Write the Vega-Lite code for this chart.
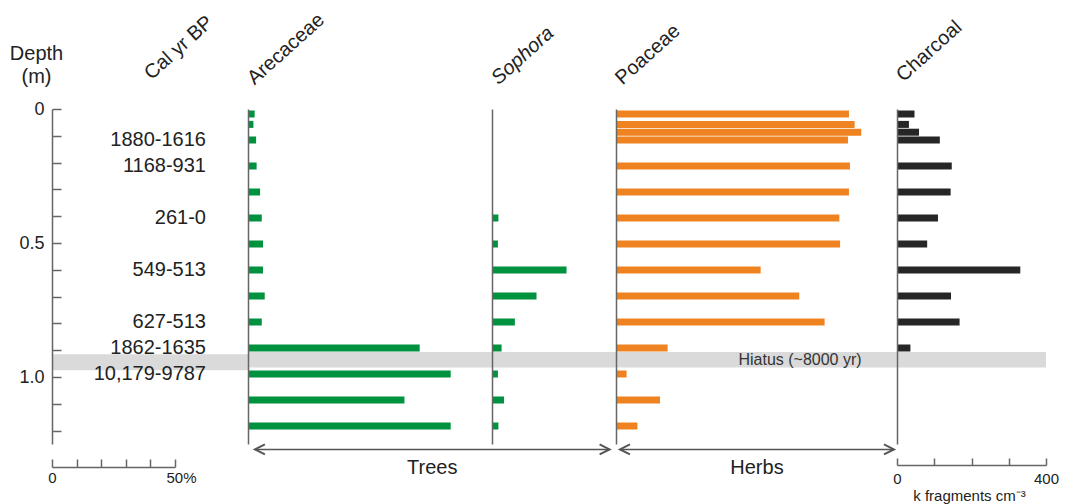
{
  "$schema": "https://vega.github.io/schema/vega-lite/v6.json",
  "background": "white",
  "padding": {"left": 9, "top": 9, "right": 5, "bottom": 5},
  "spacing": 0,
  "bounds": "flush",
  "config": {
    "view": {"stroke": null},
    "font": "Liberation Sans",
    "axis": {"grid": false}
  },
  "datasets": {
    "samples": [
      {"depth": 0.0, "age": null, "arecaceae": 2.7, "sophora": null, "poaceae": 94.7, "charcoal": 47},
      {"depth": 0.04, "age": null, "arecaceae": 2.2, "sophora": null, "poaceae": 97.0, "charcoal": 32},
      {"depth": 0.07, "age": null, "arecaceae": null, "sophora": null, "poaceae": 99.7, "charcoal": 59},
      {"depth": 0.1, "age": "1880-1616", "arecaceae": 3.3, "sophora": null, "poaceae": 94.3, "charcoal": 115},
      {"depth": 0.2, "age": "1168-931", "arecaceae": 3.5, "sophora": null, "poaceae": 95.1, "charcoal": 147},
      {"depth": 0.3, "age": null, "arecaceae": 4.9, "sophora": null, "poaceae": 94.7, "charcoal": 144},
      {"depth": 0.4, "age": "261-0", "arecaceae": 5.6, "sophora": 2.6, "poaceae": 90.8, "charcoal": 110},
      {"depth": 0.5, "age": null, "arecaceae": 6.1, "sophora": 2.4, "poaceae": 91.1, "charcoal": 81},
      {"depth": 0.6, "age": "549-513", "arecaceae": 6.1, "sophora": 30.3, "poaceae": 58.8, "charcoal": 331},
      {"depth": 0.7, "age": null, "arecaceae": 6.8, "sophora": 18.1, "poaceae": 74.5, "charcoal": 145},
      {"depth": 0.8, "age": "627-513", "arecaceae": 5.6, "sophora": 9.3, "poaceae": 84.8, "charcoal": 168},
      {"depth": 0.9, "age": "1862-1635", "arecaceae": 69.8, "sophora": 3.9, "poaceae": 21.0, "charcoal": 36},
      {"depth": 1.0, "age": "10,179-9787", "arecaceae": 82.4, "sophora": 2.4, "poaceae": 4.3, "charcoal": null},
      {"depth": 1.1, "age": null, "arecaceae": 63.6, "sophora": 4.9, "poaceae": 17.9, "charcoal": null},
      {"depth": 1.2, "age": null, "arecaceae": 82.4, "sophora": 2.6, "poaceae": 8.7, "charcoal": null}
    ],
    "hiatus": [
      {"top": 0.915, "bottom": 0.975, "label": "Hiatus (~8000 yr)"}
    ]
  },
  "hconcat": [
    {
      "width": 123,
      "height": 335,
      "data": {"name": "hiatus"},
      "mark": {"type": "rect", "color": "#d9dad9"},
      "encoding": {
        "y": {
          "field": "top", "type": "quantitative",
          "scale": {"domain": [0, 1.25], "reverse": true, "nice": false, "zero": false},
          "axis": {
            "values": [0, 0.1, 0.2, 0.3, 0.4, 0.5, 0.6, 0.7, 0.8, 0.9, 1.0, 1.1, 1.2],
            "labelExpr": "datum.value == 0 ? '0' : (abs(datum.value - 0.5) < 0.001 || abs(datum.value - 1) < 0.001) ? format(datum.value, '.1f') : ''",
            "tickSize": -9, "tickColor": "#666666", "tickWidth": 1.5,
            "domainColor": "#666666", "domainWidth": 1.5,
            "labelPadding": 17, "labelFontSize": 18, "labelColor": "#222222", "labelOverlap": false,
            "title": ["Depth", "(m)"], "titleAngle": 0, "titleAlign": "center", "titleBaseline": "alphabetic",
            "titleX": -16, "titleY": -50, "titleFontSize": 20, "titleFontWeight": "normal", "titleColor": "#222222", "titleLineHeight": 23,
            "zindex": 1
          }
        },
        "y2": {"field": "bottom"},
        "x": {
          "datum": 0, "type": "quantitative",
          "scale": {"domain": [0, 50], "nice": false},
          "axis": {
            "orient": "bottom", "offset": 23, "values": [0, 10, 20, 30, 40, 50],
            "labelExpr": "datum.value == 0 ? '0' : datum.value == 50 ? '50%' : ''",
            "labelOffset": {"condition": {"test": "datum.value == 50", "value": 6}, "value": 0},
            "tickSize": -8, "tickColor": "#666666", "tickWidth": 1.5,
            "domainColor": "#666666", "domainWidth": 1.5,
            "labelPadding": 11, "labelFontSize": 15, "labelColor": "#222222", "labelFlush": false, "labelOverlap": false,
            "title": null, "zindex": 1
          }
        },
        "x2": {"datum": 50}
      }
    },
    {
      "width": 73,
      "height": 335,
      "data": {"name": "hiatus"},
      "mark": {"type": "rect", "color": "#d9dad9"},
      "encoding": {
        "y": {"field": "top", "type": "quantitative", "scale": {"domain": [0, 1.25], "reverse": true, "nice": false, "zero": false},
              "axis": {"domain": false, "labels": false, "ticks": false, "title": "Cal yr BP", "titleAngle": -42, "titleAlign": "left", "titleBaseline": "alphabetic", "titleX": -24, "titleY": -29, "titleFontSize": 20, "titleFontWeight": "normal", "titleColor": "#222222"}},
        "y2": {"field": "bottom"}
      }
    },
    {
      "width": 244,
      "height": 335,
      "layer": [
        {
          "data": {"name": "hiatus"},
          "mark": {"type": "rect", "color": "#d9dad9"},
          "encoding": {
            "y": {"field": "top", "type": "quantitative", "scale": {"domain": [0, 1.25], "reverse": true, "nice": false, "zero": false},
                  "axis": {"labels": false, "ticks": false, "domainColor": "#666666", "domainWidth": 1.5, "zindex": 1, "title": "Arecaceae", "titleAngle": -42, "titleAlign": "left", "titleBaseline": "alphabetic", "titleX": 6, "titleY": -24, "titleFontSize": 20, "titleFontWeight": "normal", "titleColor": "#222222"}},
            "y2": {"field": "bottom"}
          }
        },
        {
          "data": {"name": "samples"},
          "mark": {"type": "bar", "orient": "horizontal", "size": 7, "color": "#00923f"},
          "encoding": {
            "y": {"field": "depth", "type": "quantitative",
                  "axis": {"labels": false, "ticks": false, "domainColor": "#666666", "domainWidth": 1.5, "zindex": 1, "title": "Arecaceae", "titleAngle": -42, "titleAlign": "left", "titleBaseline": "alphabetic", "titleX": 6, "titleY": -24, "titleFontSize": 20, "titleFontWeight": "normal", "titleColor": "#222222"}},
            "x": {"field": "arecaceae", "type": "quantitative", "scale": {"domain": [0, 99.19], "nice": false}, "axis": null}
          }
        },
        {
          "data": {"name": "samples"},
          "transform": [{"filter": "datum.age != null"}],
          "mark": {"type": "text", "align": "right", "baseline": "middle", "dx": -42, "fontSize": 20, "color": "#222222"},
          "encoding": {
            "y": {"field": "depth", "type": "quantitative",
                  "axis": {"labels": false, "ticks": false, "domainColor": "#666666", "domainWidth": 1.5, "zindex": 1, "title": "Arecaceae", "titleAngle": -42, "titleAlign": "left", "titleBaseline": "alphabetic", "titleX": 6, "titleY": -24, "titleFontSize": 20, "titleFontWeight": "normal", "titleColor": "#222222"}},
            "x": {"datum": 0, "type": "quantitative", "axis": null},
            "text": {"field": "age"}
          }
        },
        {
          "data": {"values": [{}]},
          "mark": {"type": "rule", "color": "#555555", "strokeWidth": 1.5},
          "encoding": {
            "x": {"datum": 2.8, "type": "quantitative", "axis": null},
            "x2": {"datum": 147},
            "y": {"datum": 1.29, "type": "quantitative",
                  "axis": {"labels": false, "ticks": false, "domainColor": "#666666", "domainWidth": 1.5, "zindex": 1, "title": "Arecaceae", "titleAngle": -42, "titleAlign": "left", "titleBaseline": "alphabetic", "titleX": 6, "titleY": -24, "titleFontSize": 20, "titleFontWeight": "normal", "titleColor": "#222222"}}
          }
        },
        {
          "data": {"values": [{}]},
          "mark": {"type": "point", "shape": "M2,-1L0,0L2,1", "size": 100, "filled": false, "color": "#555555", "strokeWidth": 2, "opacity": 1},
          "encoding": {
            "x": {"datum": 2.8, "type": "quantitative", "axis": null},
            "y": {"datum": 1.29, "type": "quantitative",
                  "axis": {"labels": false, "ticks": false, "domainColor": "#666666", "domainWidth": 1.5, "zindex": 1, "title": "Arecaceae", "titleAngle": -42, "titleAlign": "left", "titleBaseline": "alphabetic", "titleX": 6, "titleY": -24, "titleFontSize": 20, "titleFontWeight": "normal", "titleColor": "#222222"}}
          }
        },
        {
          "data": {"values": [{}]},
          "mark": {"type": "point", "shape": "M-2,-1L0,0L-2,1", "size": 100, "filled": false, "color": "#555555", "strokeWidth": 2, "opacity": 1},
          "encoding": {
            "x": {"datum": 147, "type": "quantitative", "axis": null},
            "y": {"datum": 1.29, "type": "quantitative",
                  "axis": {"labels": false, "ticks": false, "domainColor": "#666666", "domainWidth": 1.5, "zindex": 1, "title": "Arecaceae", "titleAngle": -42, "titleAlign": "left", "titleBaseline": "alphabetic", "titleX": 6, "titleY": -24, "titleFontSize": 20, "titleFontWeight": "normal", "titleColor": "#222222"}}
          }
        },
        {
          "data": {"values": [{}]},
          "mark": {"type": "text", "text": "Trees", "fontSize": 20, "align": "center", "baseline": "alphabetic", "color": "#222222"},
          "encoding": {
            "x": {"datum": 74.9, "type": "quantitative", "axis": null},
            "y": {"datum": 1.385, "type": "quantitative",
                  "axis": {"labels": false, "ticks": false, "domainColor": "#666666", "domainWidth": 1.5, "zindex": 1, "title": "Arecaceae", "titleAngle": -42, "titleAlign": "left", "titleBaseline": "alphabetic", "titleX": 6, "titleY": -24, "titleFontSize": 20, "titleFontWeight": "normal", "titleColor": "#222222"}}
          }
        }
      ]
    },
    {
      "width": 124,
      "height": 335,
      "layer": [
        {
          "data": {"name": "hiatus"},
          "mark": {"type": "rect", "color": "#d9dad9"},
          "encoding": {
            "y": {"field": "top", "type": "quantitative", "scale": {"domain": [0, 1.25], "reverse": true, "nice": false, "zero": false},
                  "axis": {"labels": false, "ticks": false, "domainColor": "#666666", "domainWidth": 1.5, "zindex": 1, "title": "Sophora", "titleFontStyle": "italic", "titleAngle": -42, "titleAlign": "left", "titleBaseline": "alphabetic", "titleX": 6, "titleY": -24, "titleFontSize": 20, "titleFontWeight": "normal", "titleColor": "#222222"}},
            "y2": {"field": "bottom"}
          }
        },
        {
          "data": {"name": "samples"},
          "mark": {"type": "bar", "orient": "horizontal", "size": 7, "color": "#00923f"},
          "encoding": {
            "y": {"field": "depth", "type": "quantitative",
                  "axis": {"labels": false, "ticks": false, "domainColor": "#666666", "domainWidth": 1.5, "zindex": 1, "title": "Sophora", "titleFontStyle": "italic", "titleAngle": -42, "titleAlign": "left", "titleBaseline": "alphabetic", "titleX": 6, "titleY": -24, "titleFontSize": 20, "titleFontWeight": "normal", "titleColor": "#222222"}},
            "x": {"field": "sophora", "type": "quantitative", "scale": {"domain": [0, 50.41], "nice": false}, "axis": null}
          }
        }
      ]
    },
    {
      "width": 281,
      "height": 335,
      "layer": [
        {
          "data": {"name": "hiatus"},
          "mark": {"type": "rect", "color": "#d9dad9"},
          "encoding": {
            "y": {"field": "top", "type": "quantitative", "scale": {"domain": [0, 1.25], "reverse": true, "nice": false, "zero": false},
                  "axis": {"labels": false, "ticks": false, "domainColor": "#666666", "domainWidth": 1.5, "zindex": 1, "title": "Poaceae", "titleAngle": -42, "titleAlign": "left", "titleBaseline": "alphabetic", "titleX": 6, "titleY": -24, "titleFontSize": 20, "titleFontWeight": "normal", "titleColor": "#222222"}},
            "y2": {"field": "bottom"}
          }
        },
        {
          "data": {"name": "samples"},
          "mark": {"type": "bar", "orient": "horizontal", "size": 7, "color": "#ef8321"},
          "encoding": {
            "y": {"field": "depth", "type": "quantitative",
                  "axis": {"labels": false, "ticks": false, "domainColor": "#666666", "domainWidth": 1.5, "zindex": 1, "title": "Poaceae", "titleAngle": -42, "titleAlign": "left", "titleBaseline": "alphabetic", "titleX": 6, "titleY": -24, "titleFontSize": 20, "titleFontWeight": "normal", "titleColor": "#222222"}},
            "x": {"field": "poaceae", "type": "quantitative", "scale": {"domain": [0, 114.23], "nice": false}, "axis": null}
          }
        },
        {
          "data": {"name": "hiatus"},
          "mark": {"type": "text", "fontSize": 16, "align": "center", "baseline": "middle", "color": "#333333"},
          "encoding": {
            "x": {"datum": 74.8, "type": "quantitative", "axis": null},
            "y": {"datum": 0.945, "type": "quantitative",
                  "axis": {"labels": false, "ticks": false, "domainColor": "#666666", "domainWidth": 1.5, "zindex": 1, "title": "Poaceae", "titleAngle": -42, "titleAlign": "left", "titleBaseline": "alphabetic", "titleX": 6, "titleY": -24, "titleFontSize": 20, "titleFontWeight": "normal", "titleColor": "#222222"}},
            "text": {"field": "label"}
          }
        },
        {
          "data": {"values": [{}]},
          "mark": {"type": "rule", "color": "#555555", "strokeWidth": 1.5},
          "encoding": {
            "x": {"datum": 1.6, "type": "quantitative", "axis": null},
            "x2": {"datum": 113.0},
            "y": {"datum": 1.29, "type": "quantitative",
                  "axis": {"labels": false, "ticks": false, "domainColor": "#666666", "domainWidth": 1.5, "zindex": 1, "title": "Poaceae", "titleAngle": -42, "titleAlign": "left", "titleBaseline": "alphabetic", "titleX": 6, "titleY": -24, "titleFontSize": 20, "titleFontWeight": "normal", "titleColor": "#222222"}}
          }
        },
        {
          "data": {"values": [{}]},
          "mark": {"type": "point", "shape": "M2,-1L0,0L2,1", "size": 100, "filled": false, "color": "#555555", "strokeWidth": 2, "opacity": 1},
          "encoding": {
            "x": {"datum": 1.6, "type": "quantitative", "axis": null},
            "y": {"datum": 1.29, "type": "quantitative",
                  "axis": {"labels": false, "ticks": false, "domainColor": "#666666", "domainWidth": 1.5, "zindex": 1, "title": "Poaceae", "titleAngle": -42, "titleAlign": "left", "titleBaseline": "alphabetic", "titleX": 6, "titleY": -24, "titleFontSize": 20, "titleFontWeight": "normal", "titleColor": "#222222"}}
          }
        },
        {
          "data": {"values": [{}]},
          "mark": {"type": "point", "shape": "M-2,-1L0,0L-2,1", "size": 100, "filled": false, "color": "#555555", "strokeWidth": 2, "opacity": 1},
          "encoding": {
            "x": {"datum": 113.0, "type": "quantitative", "axis": null},
            "y": {"datum": 1.29, "type": "quantitative",
                  "axis": {"labels": false, "ticks": false, "domainColor": "#666666", "domainWidth": 1.5, "zindex": 1, "title": "Poaceae", "titleAngle": -42, "titleAlign": "left", "titleBaseline": "alphabetic", "titleX": 6, "titleY": -24, "titleFontSize": 20, "titleFontWeight": "normal", "titleColor": "#222222"}}
          }
        },
        {
          "data": {"values": [{}]},
          "mark": {"type": "text", "text": "Herbs", "fontSize": 20, "align": "center", "baseline": "alphabetic", "color": "#222222"},
          "encoding": {
            "x": {"datum": 57.3, "type": "quantitative", "axis": null},
            "y": {"datum": 1.385, "type": "quantitative",
                  "axis": {"labels": false, "ticks": false, "domainColor": "#666666", "domainWidth": 1.5, "zindex": 1, "title": "Poaceae", "titleAngle": -42, "titleAlign": "left", "titleBaseline": "alphabetic", "titleX": 6, "titleY": -24, "titleFontSize": 20, "titleFontWeight": "normal", "titleColor": "#222222"}}
          }
        }
      ]
    },
    {
      "width": 149,
      "height": 335,
      "layer": [
        {
          "data": {"name": "hiatus"},
          "mark": {"type": "rect", "color": "#d9dad9"},
          "encoding": {
            "y": {"field": "top", "type": "quantitative", "scale": {"domain": [0, 1.25], "reverse": true, "nice": false, "zero": false},
                  "axis": {"labels": false, "ticks": false, "domainColor": "#666666", "domainWidth": 1.5, "zindex": 1, "title": "Charcoal", "titleAngle": -42, "titleAlign": "left", "titleBaseline": "alphabetic", "titleX": 6, "titleY": -27, "titleFontSize": 20, "titleFontWeight": "normal", "titleColor": "#222222"}},
            "y2": {"field": "bottom"}
          }
        },
        {
          "data": {"name": "samples"},
          "mark": {"type": "bar", "orient": "horizontal", "size": 7, "color": "#262626"},
          "encoding": {
            "y": {"field": "depth", "type": "quantitative",
                  "axis": {"labels": false, "ticks": false, "domainColor": "#666666", "domainWidth": 1.5, "zindex": 1, "title": "Charcoal", "titleAngle": -42, "titleAlign": "left", "titleBaseline": "alphabetic", "titleX": 6, "titleY": -27, "titleFontSize": 20, "titleFontWeight": "normal", "titleColor": "#222222"}},
            "x": {
              "field": "charcoal", "type": "quantitative", "scale": {"domain": [0, 400], "nice": false},
              "axis": {
                "orient": "bottom", "offset": 21, "values": [0, 100, 200, 300, 400],
                "labelExpr": "datum.value == 0 || datum.value == 400 ? datum.label : ''",
                "tickSize": -7, "tickColor": "#666666", "tickWidth": 1.5,
                "domainColor": "#666666", "domainWidth": 1.5,
                "labelPadding": 13, "labelFontSize": 15, "labelColor": "#222222", "labelFlush": false, "labelOverlap": false,
                "title": "k fragments cm⁻³", "titleFontSize": 15, "titleFontWeight": "normal", "titleColor": "#222222",
                "titleBaseline": "alphabetic", "titleY": 35, "titleX": 72, "zindex": 1
              }
            }
          }
        }
      ]
    }
  ]
}
